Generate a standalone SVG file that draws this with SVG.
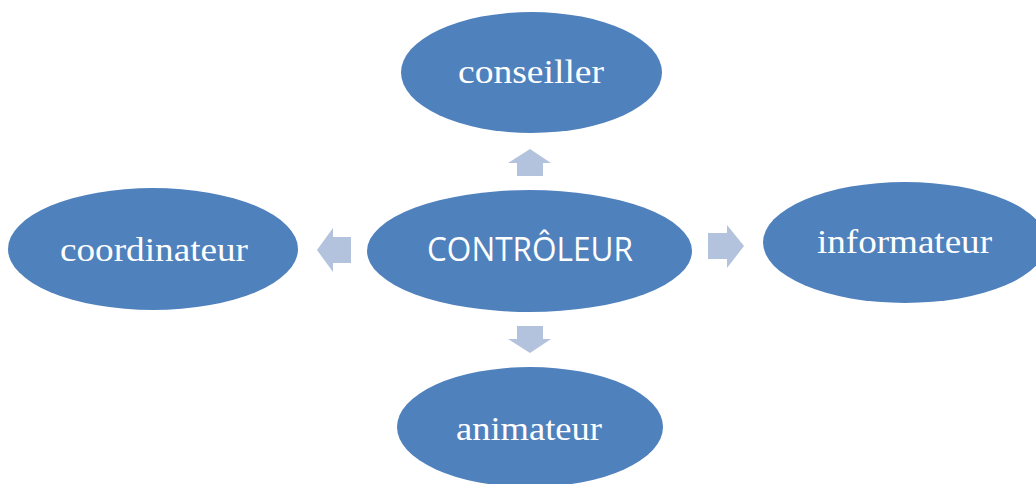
<svg xmlns="http://www.w3.org/2000/svg" width="1036" height="484" viewBox="0 0 1036 484">
<style>
.node{fill:#4F81BD;}
.arr{fill:#B3C2DD;}
.t{fill:#FFFFFF;font-family:"Liberation Serif","Times New Roman",serif;font-size:34px;text-anchor:start;}
.c{fill:#FFFFFF;font-family:"Open Sans","Liberation Sans",sans-serif;font-size:32px;}
</style>
<rect width="1036" height="484" fill="#FFFFFF"/>
<g id="connectors">
<polygon class="arr" points="530,149 551,163 543,163 543,176 517,176 517,163 508,163"/>
<polygon class="arr" points="530,353 551,339 543,339 543,326 517,326 517,339 508,339"/>
<polygon class="arr" points="317,250 333,228 333,237 351,237 351,263 333,263 333,272"/>
<polygon class="arr" points="744,246 727,225 727,233 708,233 708,259 727,259 727,268"/>
</g>
<g id="controleur">
<ellipse class="node" cx="529.5" cy="251" rx="162.5" ry="61"/>
<text class="c" x="427" y="261" textLength="206" lengthAdjust="spacingAndGlyphs">CONTRÔLEUR</text>
</g>
<g id="conseiller">
<ellipse class="node" cx="531.5" cy="72.5" rx="130.5" ry="60.5"/>
<text class="t" x="458" y="83" textLength="146" lengthAdjust="spacingAndGlyphs">conseiller</text>
</g>
<g id="animateur">
<ellipse class="node" cx="530" cy="427" rx="133" ry="60"/>
<text class="t" x="456" y="440" textLength="146" lengthAdjust="spacingAndGlyphs">animateur</text>
</g>
<g id="coordinateur">
<ellipse class="node" cx="153" cy="249" rx="145" ry="61"/>
<text class="t" x="60" y="261" textLength="188" lengthAdjust="spacingAndGlyphs">coordinateur</text>
</g>
<g id="informateur">
<ellipse class="node" cx="905" cy="242.5" rx="142" ry="60.5"/>
<text class="t" x="817" y="253" textLength="175" lengthAdjust="spacingAndGlyphs">informateur</text>
</g>
</svg>
